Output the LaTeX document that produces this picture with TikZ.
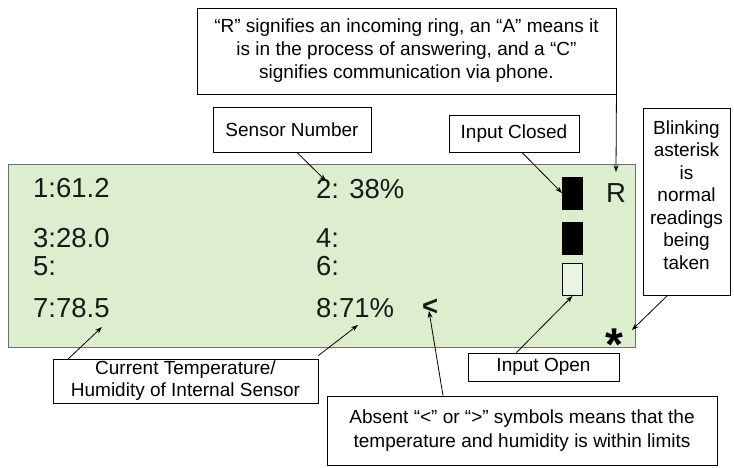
\documentclass[tikz,border=0pt]{standalone}
\usepackage{fontspec}
\setmainfont{Liberation Sans}
\usetikzlibrary{arrows.meta}
\definecolor{lcdgreen}{RGB}{220,238,206}
\definecolor{lcdedge}{RGB}{110,110,110}
\tikzset{
  reading/.style={anchor=base west, inner sep=0pt, font=\fontsize{27.5}{27.5}\selectfont, text=black!90},
  callout/.style={draw=black, line width=0.9pt, fill=white, align=center, inner sep=0pt,
    font=\fontsize{19}{23}\selectfont},
  pointer/.style={-{Stealth[length=7pt,width=5pt]}, line width=0.8pt},
  lamp/.style={draw=black, line width=0.9pt, minimum width=20pt, minimum height=32pt, inner sep=0pt}
}
\begin{document}
\begin{tikzpicture}[x=1pt,y=-1pt]
\useasboundingbox (0,0) rectangle (734,468);
% LCD panel
\path[draw=lcdedge, line width=1pt, fill=lcdgreen] (8,165) rectangle (635,347);
% readings
\node[reading] (s1) at (33,197) {1:61.2};
\node[reading] (s3) at (33,247) {3:28.0};
\node[reading] (s5) at (33,275) {5:};
\node[reading] (s7) at (33,317) {7:78.5};
\node[reading] (s2) at (316,198) {2: 38\%};
\node[reading] (s4) at (316,247) {4:};
\node[reading] (s6) at (316,275) {6:};
\node[reading] (s8) at (316,317) {8:71\%};
\node[reading, font=\fontsize{27.5}{27.5}\bfseries\selectfont] (lt) at (422,315) {<};
\node[reading] (ring) at (606,203) {R};
\node[anchor=base, inner sep=0pt, font=\fontsize{46}{46}\bfseries\selectfont] (star) at (614,360) {*};
% input indicators
\node[lamp, fill=black] (in1) at (572.5,193.5) {};
\node[lamp, fill=black] (in2) at (572.5,238) {};
\node[lamp, fill=lcdgreen!60!white] (in3) at (572.5,279.5) {};
% callouts
\node[callout, minimum width=419pt, minimum height=86pt] (ringnote) at (406.5,51)
  {``R'' signifies an incoming ring, an ``A'' means it\\is in the process of answering, and a ``C''\\signifies communication via phone.};
\node[callout, minimum width=158pt, minimum height=45pt] (sensnum) at (292,129.5) {Sensor Number};
\node[callout, minimum width=130pt, minimum height=37pt] (closed) at (514,133.5) {Input Closed};
\node[callout, minimum width=87pt, minimum height=187pt] (blink) at (686.5,201.5) {};
\node[align=center, inner sep=0pt, font=\fontsize{19}{22.5}\selectfont] (blinktext) at (686.5,195)
  {Blinking\\asterisk\\is\\normal\\readings\\being\\taken};
\node[callout, minimum width=151pt, minimum height=28pt] (open) at (543.5,367) {Input Open};
\node[callout, minimum width=390pt, minimum height=69pt, font=\fontsize{19}{24}\selectfont] (absent) at (522,430.5)
  {Absent ``<'' or ``>'' symbols means that the\\temperature and humidity is within limits};
\node[callout, minimum width=265pt, minimum height=44pt, font=\fontsize{19}{22}\selectfont] (curr) at (185.5,381)
  {Current Temperature/\\Humidity of Internal Sensor};
% pointers
\coordinate (ringtip) at (616,172);
\draw[pointer] (ringnote.south east) -- (ringtip);
\coordinate (s2tip) at (326,181);
\draw[pointer] ([xshift=5pt]sensnum.south) -- (s2tip);
\coordinate (in1tip) at (562,193);
\draw[pointer] ([xshift=8pt]closed.south) -- (in1tip);
\coordinate (startip) at (632,330);
\draw[pointer] ([xshift=-19pt]blink.south) -- (startip);
\draw[pointer] ([xshift=-27pt]open.north) -- (in3.south);
\coordinate (lttip) at (429,311);
\draw[pointer] ([xshift=-79pt]absent.north) -- (lttip);
\coordinate (s7tip) at (102,327);
\coordinate (s8tip) at (358,325);
\draw[pointer] ([xshift=15pt,yshift=-1pt]curr.north west) -- (s7tip);
\draw[pointer] ([yshift=3pt]curr.north east) -- (s8tip);
\end{tikzpicture}
\end{document}
